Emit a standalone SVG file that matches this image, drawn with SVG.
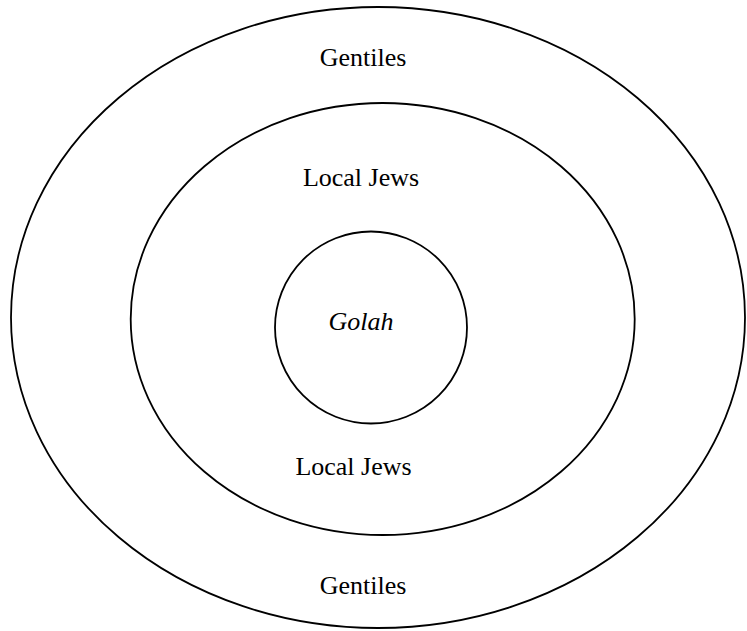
<svg xmlns="http://www.w3.org/2000/svg" width="747" height="631" viewBox="0 0 747 631">
<style>
.ring{fill:none;stroke:#000;stroke-width:1.8}
.lbl{font-family:"Liberation Serif","Times New Roman",serif;font-size:26px;fill:#000;text-anchor:middle}
.it{font-style:italic}
</style>
<rect width="747" height="631" fill="#fff"/>
<g id="gentiles">
<ellipse class="ring" cx="378" cy="317.5" rx="367" ry="310.5"/>
<text class="lbl" x="363" y="66">Gentiles</text>
<text class="lbl" x="363" y="594">Gentiles</text>
</g>
<g id="local-jews">
<ellipse class="ring" cx="382.7" cy="319" rx="252" ry="216"/>
<text class="lbl" x="361" y="186">Local Jews</text>
<text class="lbl" x="353.5" y="475">Local Jews</text>
</g>
<g id="golah">
<circle class="ring" cx="371" cy="327.5" r="96"/>
<text class="lbl it" x="361" y="330">Golah</text>
</g>
<g id="connectors"/>
</svg>
